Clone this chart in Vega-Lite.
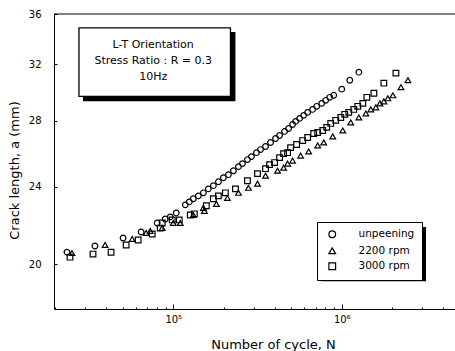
{
  "$schema": "https://vega.github.io/schema/vega-lite/v6.json",
  "autosize": {"type": "none"},
  "padding": {"left": 54, "top": 14, "right": 0, "bottom": 42},
  "width": 401,
  "height": 295,
  "background": "white",
  "config": {"view": {"stroke": null}, "font": "DejaVu Sans"},
  "datasets": {
    "one": [{}],
    "crack": [
      {"N": 23400, "a": 20.57, "series": "unpeening"},
      {"N": 34300, "a": 20.87, "series": "unpeening"},
      {"N": 50400, "a": 21.27, "series": "unpeening"},
      {"N": 64500, "a": 21.57, "series": "unpeening"},
      {"N": 80300, "a": 22.03, "series": "unpeening"},
      {"N": 89600, "a": 22.24, "series": "unpeening"},
      {"N": 96000, "a": 22.35, "series": "unpeening"},
      {"N": 104200, "a": 22.56, "series": "unpeening"},
      {"N": 117900, "a": 22.99, "series": "unpeening"},
      {"N": 124500, "a": 23.15, "series": "unpeening"},
      {"N": 131500, "a": 23.32, "series": "unpeening"},
      {"N": 140900, "a": 23.48, "series": "unpeening"},
      {"N": 150900, "a": 23.65, "series": "unpeening"},
      {"N": 161600, "a": 23.87, "series": "unpeening"},
      {"N": 173000, "a": 24.05, "series": "unpeening"},
      {"N": 185300, "a": 24.27, "series": "unpeening"},
      {"N": 198400, "a": 24.5, "series": "unpeening"},
      {"N": 212500, "a": 24.68, "series": "unpeening"},
      {"N": 227600, "a": 24.91, "series": "unpeening"},
      {"N": 243700, "a": 25.15, "series": "unpeening"},
      {"N": 257400, "a": 25.33, "series": "unpeening"},
      {"N": 275700, "a": 25.57, "series": "unpeening"},
      {"N": 291200, "a": 25.75, "series": "unpeening"},
      {"N": 311900, "a": 25.99, "series": "unpeening"},
      {"N": 329500, "a": 26.18, "series": "unpeening"},
      {"N": 352800, "a": 26.37, "series": "unpeening"},
      {"N": 377900, "a": 26.62, "series": "unpeening"},
      {"N": 404700, "a": 26.87, "series": "unpeening"},
      {"N": 427600, "a": 27.06, "series": "unpeening"},
      {"N": 457900, "a": 27.32, "series": "unpeening"},
      {"N": 483600, "a": 27.51, "series": "unpeening"},
      {"N": 510900, "a": 27.77, "series": "unpeening"},
      {"N": 532400, "a": 27.97, "series": "unpeening"},
      {"N": 562300, "a": 28.17, "series": "unpeening"},
      {"N": 594000, "a": 28.37, "series": "unpeening"},
      {"N": 627400, "a": 28.57, "series": "unpeening"},
      {"N": 672100, "a": 28.77, "series": "unpeening"},
      {"N": 710000, "a": 28.98, "series": "unpeening"},
      {"N": 760300, "a": 29.18, "series": "unpeening"},
      {"N": 803100, "a": 29.39, "series": "unpeening"},
      {"N": 848300, "a": 29.6, "series": "unpeening"},
      {"N": 896000, "a": 29.74, "series": "unpeening"},
      {"N": 1000000, "a": 30.17, "series": "unpeening"},
      {"N": 1116000, "a": 30.81, "series": "unpeening"},
      {"N": 1263000, "a": 31.4, "series": "unpeening"},

      {"N": 25060, "a": 20.53, "series": "2200 rpm"},
      {"N": 39380, "a": 20.92, "series": "2200 rpm"},
      {"N": 57020, "a": 21.22, "series": "2200 rpm"},
      {"N": 69080, "a": 21.52, "series": "2200 rpm"},
      {"N": 72970, "a": 21.62, "series": "2200 rpm"},
      {"N": 86000, "a": 21.77, "series": "2200 rpm"},
      {"N": 100000, "a": 22.03, "series": "2200 rpm"},
      {"N": 110000, "a": 22.03, "series": "2200 rpm"},
      {"N": 131500, "a": 22.45, "series": "2200 rpm"},
      {"N": 150900, "a": 22.83, "series": "2200 rpm"},
      {"N": 152900, "a": 22.67, "series": "2200 rpm"},
      {"N": 180300, "a": 23.04, "series": "2200 rpm"},
      {"N": 209600, "a": 23.37, "series": "2200 rpm"},
      {"N": 243700, "a": 23.65, "series": "2200 rpm"},
      {"N": 279500, "a": 23.93, "series": "2200 rpm"},
      {"N": 316200, "a": 24.16, "series": "2200 rpm"},
      {"N": 352800, "a": 24.62, "series": "2200 rpm"},
      {"N": 415900, "a": 24.91, "series": "2200 rpm"},
      {"N": 451700, "a": 25.09, "series": "2200 rpm"},
      {"N": 477100, "a": 25.33, "series": "2200 rpm"},
      {"N": 510900, "a": 25.51, "series": "2200 rpm"},
      {"N": 570200, "a": 25.81, "series": "2200 rpm"},
      {"N": 636100, "a": 26.06, "series": "2200 rpm"},
      {"N": 719700, "a": 26.43, "series": "2200 rpm"},
      {"N": 781400, "a": 26.62, "series": "2200 rpm"},
      {"N": 884200, "a": 27.0, "series": "2200 rpm"},
      {"N": 1014000, "a": 27.38, "series": "2200 rpm"},
      {"N": 1131000, "a": 27.9, "series": "2200 rpm"},
      {"N": 1263000, "a": 28.23, "series": "2200 rpm"},
      {"N": 1390000, "a": 28.5, "series": "2200 rpm"},
      {"N": 1488000, "a": 28.77, "series": "2200 rpm"},
      {"N": 1594000, "a": 28.91, "series": "2200 rpm"},
      {"N": 1684000, "a": 29.18, "series": "2200 rpm"},
      {"N": 1778000, "a": 29.32, "series": "2200 rpm"},
      {"N": 1878000, "a": 29.53, "series": "2200 rpm"},
      {"N": 2012000, "a": 29.74, "series": "2200 rpm"},
      {"N": 2245000, "a": 30.31, "series": "2200 rpm"},
      {"N": 2471000, "a": 30.81, "series": "2200 rpm"},

      {"N": 24380, "a": 20.33, "series": "3000 rpm"},
      {"N": 33410, "a": 20.48, "series": "3000 rpm"},
      {"N": 42760, "a": 20.57, "series": "3000 rpm"},
      {"N": 52520, "a": 20.92, "series": "3000 rpm"},
      {"N": 61900, "a": 21.17, "series": "3000 rpm"},
      {"N": 74990, "a": 21.47, "series": "3000 rpm"},
      {"N": 83660, "a": 21.77, "series": "3000 rpm"},
      {"N": 86000, "a": 22.03, "series": "3000 rpm"},
      {"N": 98600, "a": 22.19, "series": "3000 rpm"},
      {"N": 108600, "a": 22.19, "series": "3000 rpm"},
      {"N": 126200, "a": 22.45, "series": "3000 rpm"},
      {"N": 133400, "a": 22.51, "series": "3000 rpm"},
      {"N": 157200, "a": 22.94, "series": "3000 rpm"},
      {"N": 173000, "a": 23.32, "series": "3000 rpm"},
      {"N": 185300, "a": 23.48, "series": "3000 rpm"},
      {"N": 203900, "a": 23.65, "series": "3000 rpm"},
      {"N": 233900, "a": 23.87, "series": "3000 rpm"},
      {"N": 275700, "a": 24.33, "series": "3000 rpm"},
      {"N": 316200, "a": 24.74, "series": "3000 rpm"},
      {"N": 352800, "a": 25.03, "series": "3000 rpm"},
      {"N": 372800, "a": 25.27, "series": "3000 rpm"},
      {"N": 399200, "a": 25.39, "series": "3000 rpm"},
      {"N": 427600, "a": 25.69, "series": "3000 rpm"},
      {"N": 451700, "a": 25.93, "series": "3000 rpm"},
      {"N": 477100, "a": 25.99, "series": "3000 rpm"},
      {"N": 497100, "a": 26.3, "series": "3000 rpm"},
      {"N": 539700, "a": 26.49, "series": "3000 rpm"},
      {"N": 586000, "a": 26.74, "series": "3000 rpm"},
      {"N": 627400, "a": 26.93, "series": "3000 rpm"},
      {"N": 681300, "a": 27.19, "series": "3000 rpm"},
      {"N": 719700, "a": 27.25, "series": "3000 rpm"},
      {"N": 770700, "a": 27.38, "series": "3000 rpm"},
      {"N": 814300, "a": 27.58, "series": "3000 rpm"},
      {"N": 860000, "a": 27.84, "series": "3000 rpm"},
      {"N": 921000, "a": 28.04, "series": "3000 rpm"},
      {"N": 986400, "a": 28.23, "series": "3000 rpm"},
      {"N": 1042000, "a": 28.44, "series": "3000 rpm"},
      {"N": 1101000, "a": 28.57, "series": "3000 rpm"},
      {"N": 1179000, "a": 28.77, "series": "3000 rpm"},
      {"N": 1245000, "a": 28.98, "series": "3000 rpm"},
      {"N": 1334000, "a": 29.18, "series": "3000 rpm"},
      {"N": 1409000, "a": 29.6, "series": "3000 rpm"},
      {"N": 1551000, "a": 29.88, "series": "3000 rpm"},
      {"N": 1778000, "a": 30.6, "series": "3000 rpm"},
      {"N": 2096000, "a": 31.33, "series": "3000 rpm"}
    ]
  },
  "layer": [
    {
      "data": {"name": "one"},
      "mark": {"type": "rule", "color": "black", "strokeWidth": 1},
      "encoding": {
        "y": {"datum": 36, "type": "quantitative", "title": "Crack length, a (mm)", "scale": {"type": "log", "domain": [18, 36], "nice": false}}
      }
    },
    {
      "data": {"name": "one"},
      "mark": {"type": "rect", "color": "black"},
      "encoding": {
        "x": {"datum": 29130, "type": "quantitative", "title": "Number of cycle, N", "scale": {"type": "log", "domain": [19600, 4700000], "nice": false}},
        "x2": {"datum": 233900},
        "y": {"datum": 34.51, "type": "quantitative", "title": "Crack length, a (mm)", "scale": {"type": "log", "domain": [18, 36], "nice": false}},
        "y2": {"datum": 29.32}
      }
    },
    {
      "data": {"name": "one"},
      "mark": {"type": "rect", "fill": "white", "stroke": "black", "strokeWidth": 1.3},
      "encoding": {
        "x": {"datum": 27570, "type": "quantitative", "title": "Number of cycle, N", "scale": {"type": "log", "domain": [19600, 4700000], "nice": false}},
        "x2": {"datum": 218500},
        "y": {"datum": 34.84, "type": "quantitative", "title": "Crack length, a (mm)", "scale": {"type": "log", "domain": [18, 36], "nice": false}},
        "y2": {"datum": 29.67}
      }
    },
    {
      "data": {"name": "one"},
      "mark": {"type": "text", "text": ["L-T Orientation", "Stress Ratio : R = 0.3", "10Hz"], "lineHeight": 16, "fontSize": 11, "font": "DejaVu Sans", "align": "center", "baseline": "middle", "color": "black"},
      "encoding": {
        "x": {"datum": 76030, "type": "quantitative", "title": "Number of cycle, N", "scale": {"type": "log", "domain": [19600, 4700000], "nice": false}},
        "y": {"datum": 33.48, "type": "quantitative", "title": "Crack length, a (mm)", "scale": {"type": "log", "domain": [18, 36], "nice": false}}
      }
    },
    {
      "data": {"name": "one"},
      "mark": {"type": "rect", "color": "black"},
      "encoding": {
        "x": {"datum": 760300, "type": "quantitative", "title": "Number of cycle, N", "scale": {"type": "log", "domain": [19600, 4700000], "nice": false}},
        "x2": {"datum": 3162000},
        "y": {"datum": 21.83, "type": "quantitative", "title": "Crack length, a (mm)", "scale": {"type": "log", "domain": [18, 36], "nice": false}},
        "y2": {"datum": 19.21}
      }
    },
    {
      "data": {"name": "crack"},
      "mark": {"type": "point", "filled": false, "color": "black", "strokeWidth": 1.2, "size": 32, "opacity": 1},
      "encoding": {
        "x": {
          "field": "N", "type": "quantitative", "title": "Number of cycle, N",
          "scale": {"type": "log", "domain": [19600, 4700000], "nice": false},
          "axis": {
            "values": [20000, 30000, 40000, 50000, 60000, 70000, 80000, 90000, 100000, 200000, 300000, 400000, 500000, 600000, 700000, 800000, 900000, 1000000, 2000000, 3000000, 4000000],
            "labelExpr": "datum.value == 100000 ? '10⁵' : datum.value == 1000000 ? '10⁶' : ''",
            "tickSize": {"condition": {"test": "datum.value == 100000 || datum.value == 1000000", "value": -5}, "value": -2},
            "tickColor": "black", "domainColor": "black", "labelColor": "black", "titleColor": "black",
            "labelFontSize": 10, "labelPadding": 10, "labelOverlap": false, "labelFlush": false,
            "titleFontSize": 13, "titleFontWeight": "normal", "titleX": 219, "titleY": 29, "titleBaseline": "top",
            "grid": false
          }
        },
        "y": {
          "field": "a", "type": "quantitative", "title": "Crack length, a (mm)",
          "scale": {"type": "log", "domain": [18, 36], "nice": false},
          "axis": {
            "values": [20, 24, 28, 32, 36],
            "tickSize": -3,
            "tickColor": "black", "domainColor": "black", "labelColor": "black", "titleColor": "black",
            "labelFontSize": 10, "labelPadding": 16, "labelOverlap": false, "labelFlush": false,
            "titleFontSize": 13, "titleFontWeight": "normal", "titleX": -40, "titleY": 156, "titleBaseline": "middle", "titleAlign": "center", "titleAngle": 270,
            "grid": false
          }
        },
        "shape": {
          "field": "series", "type": "nominal",
          "scale": {"domain": ["unpeening", "2200 rpm", "3000 rpm"], "range": ["circle", "triangle-up", "square"]},
          "legend": {
            "title": null, "orient": "none", "legendX": 263, "legendY": 208,
            "strokeColor": "black", "fillColor": "white",
            "padding": 7, "symbolOffset": 3, "labelOffset": 21, "rowPadding": 3.5,
            "symbolSize": 45, "symbolStrokeWidth": 1.2, "symbolStrokeColor": "black", "symbolFillColor": "white",
            "labelFont": "DejaVu Sans", "labelFontSize": 10.5, "labelColor": "black"
          }
        }
      }
    }
  ]
}
